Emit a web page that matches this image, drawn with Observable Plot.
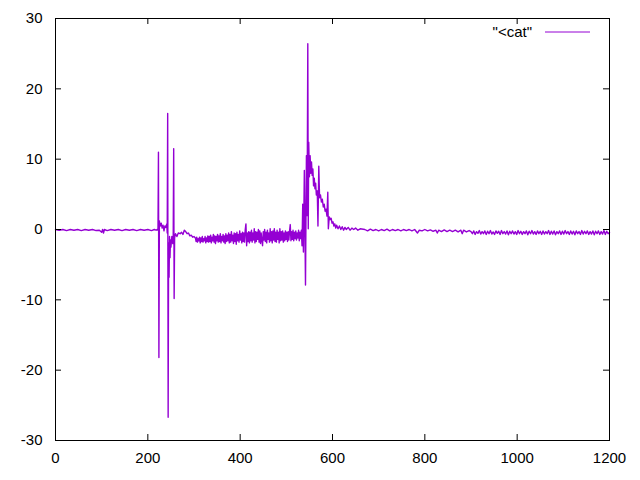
<!DOCTYPE html>
<html>
<head>
<meta charset="utf-8">
<script src="https://cdn.jsdelivr.net/npm/d3@7"></script>
<script src="https://cdn.jsdelivr.net/npm/@observablehq/plot@0.6"></script>
<style>
  html, body { margin: 0; padding: 0; background: #fff; }
  #wrap { position: relative; width: 640px; height: 480px; }
  #legend { position: absolute; left: 0; top: 0; width: 640px; height: 480px; pointer-events: none; }
</style>
</head>
<body>
<div id="wrap"></div>
<script>
const seriesName = '"<cat"';
const xTicks = [0, 200, 400, 600, 800, 1000, 1200];
const yTicks = [-30, -20, -10, 0, 10, 20, 30];

// [x, y] samples, by segment
const quietStart = [
  [0,0],[8,-0.1],[16,0],[24,-0.15],[32,0],[40,-0.1],[48,0],[56,-0.15],[64,0],[72,-0.1],[80,0],[88,-0.15],
  [95,-0.1],[100,-0.4],[102,0],[104,-0.5],[106,0],[112,-0.15],[120,0],[128,-0.1],[136,0],[144,-0.15],
  [152,0],[160,-0.1],[168,0],[176,-0.15],[184,0],[192,-0.1],[200,0],[208,-0.15],[214,0],[218,-0.1],[220,0]
];
const firstBurst = [
  [222,-0.1],[223,11],[224,-18.2],[225,1.2],[227,0.5],[229,0.9],[231,0.2],[233,0.6],[235,-0.2],[237,0.5],
  [239,0.3],[241,0.8],[242,-0.5],[243,16.5],[244,-26.7],[245,-2],[246,-6.8],[247,-1],[248,-4],[249,-1.5],
  [250,-2.5],[252,-1],[254,-2],[255,-0.8],[256,11.5],[257,-9.8],[258,-1.2],
  [260,-0.6],[263,-1],[266,-0.5],[270,-0.6],[273,-0.4],[276,-0.7],[279,-0.1],[282,-0.3],[285,-0.6],
  [288,-0.5],[291,-0.9],[294,-0.8],[297,-1.1],[300,-1.0]
];
const noisyMiddle = [
  [303,-1.2],[304.5,-1.7],[306,-1.1],[307.5,-1.8],[309,-1.3],[310.5,-1.6],[312,-1.1],[313.5,-1.9],[315,-1.2],[316.5,-1.7],
  [318,-1.0],[319.5,-1.8],[321,-1.3],[322.5,-1.6],[324,-1.0],[325.5,-1.9],[327,-1.2],[328.5,-1.7],[330,-0.9],[331.5,-1.8],
  [333,-1.0],[334.5,-1.7],[336,-0.8],[337.5,-1.9],[339,-1.1],[340.5,-1.6],[342,-0.7],[343.5,-1.8],[345,-0.9],[346.5,-2.0],
  [348,-1.0],[349.5,-1.6],[351,-0.7],[352.5,-1.8],[354,-0.9],[355.5,-1.7],[357,-0.6],[358.5,-1.9],[360,-1.0],[361.5,-1.6],
  [363,-0.7],[364.5,-1.8],[366,-0.9],[367.5,-2.0],[369,-0.6],[370.5,-1.7],[372,-0.8],[373.5,-1.6],[375,-0.5],[376.5,-1.9],
  [378,-0.7],[379.5,-1.8],[381,-0.3],[382.5,-1.6],[384,-0.8],[385.5,-2.0],[387,-0.5],[388.5,-1.7],[390,-0.6],[391.5,-2.1],
  [393,-0.4],[394.5,-1.6],[396,-0.7],[397.5,-1.8],[399,-0.2],[400.5,-1.5],[402,-0.6],[403.5,-1.9],[405,-0.4],[406.5,-1.7],
  [408,-0.5],[409.5,-1.8],[411,0.0],[412.5,0.8],[414,-2.3],[415.5,-0.5],[417,-1.7],[418.5,-0.3],[420,-1.9],[421.5,-0.4],
  [423,-1.6],[424.5,-0.1],[426,-1.8],[427.5,-0.5],[429,-1.5],[430.5,0.1],[432,-1.9],[433.5,-0.3],[435,-1.7],[436.5,-0.4],
  [438,-1.4],[439.5,0.0],[441,-1.8],[442.5,-0.2],[444,-2.0],[445.5,-0.5],[447,-1.6],[448.5,-2.3],[450,-0.3],[451.5,-1.5],
  [453,0.0],[454.5,-1.7],[456,-0.4],[457.5,-1.9],[459,-0.1],[460.5,-1.4],[462,-0.5],[463.5,-1.8],[465,0.1],[466.5,-1.6],
  [468,-0.3],[469.5,-1.9],[471,-0.2],[472.5,-1.5],[474,0.1],[475.5,-1.7],[477,-0.4],[478.5,-1.8],[480,-0.1],[481.5,-1.4],
  [483,-0.4],[484.5,-1.9],[486,0.1],[487.5,-1.6],[489,-0.3],[490.5,-1.5],[492,-0.2],[493.5,-1.8],[495,-0.5],[496.5,-1.6],
  [498,-0.2],[499.5,-1.4],[501,-0.4],[502.5,-1.7],[504,-0.3],[505.5,-1.5],[507,-0.2],[508.5,0.7],[510,-1.6],[511.5,-0.3],
  [513,-1.4],[514.5,-0.1],[516,-1.6],[517.5,-0.4],[519,-1.3],[520.5,-0.2],[522,-1.5],[523.5,-0.5],[525,-1.2],[526.5,-0.1],
  [528,-1.6],[529.5,-0.4],[531,-1.3],[532.5,-0.1],[534,-2.3]
];
const mainBurst = [
  [535.5,3.6],[537,-3.2],[539,8.4],[541.5,-7.9],[543.5,10.5],[545,2],[546.5,26.4],[547.5,0.1],[548.5,12.4],
  [550,7.5],[551.5,10.5],[553,8],[554.5,9.6],[556,7.7],[557.5,8.6],[559,6.2],[560.5,7.3],[562,5.8],[563.5,6.6],
  [565,4.9],[567,5.5],[568.5,0.5],[570.3,9.0],[572,4.5],[574,4.9],[576,3.9],[578,4.3],[580,3.2],[582,3.6],
  [584,2.6],[586,2.9],[588,1.9],[589.8,5.3],[591,0.1],[593,1.8],[595,1.4],[597,1.6],[599,0.9],[601,1.1],
  [603,0.5],[605,0.8],[607,0.2],[609,0.6],[612,0.1],[615,0.5],[618,0.0],[621,0.4],[624,-0.1],[627,0.3],
  [630,0.0],[634,0.3],[638,-0.1],[642,0.2],[646,0.0],[650,0.2],[655,-0.1],[660,0.1]
];
const quietTail = [
  [670,0],[676,-0.2],[682,0.05],[688,-0.15],[694,0],[700,-0.2],[706,0],[712,-0.15],[718,0.05],[724,-0.2],
  [730,0],[736,-0.15],[742,0],[748,-0.2],[754,0],[760,-0.15],[766,0],[772,-0.2],[778,0],[784,-0.5],
  [788,-0.1],[794,-0.2],[800,0],[806,-0.2],[812,-0.05],[818,-0.25],[824,-0.1],[827,-0.5],[830,-0.1],[836,-0.3],
  [842,-0.05],[848,-0.3],[854,-0.1],[860,-0.3],[866,-0.1],[872,-0.35],[878,-0.1],[881,-0.6],[884,-0.1],[890,-0.35],
  [896,-0.15]
];
const driftEnd = [
  [900,-0.3],[903,-0.6],[906,-0.2],[909,-0.7],[912,-0.3],[915,-0.55],[918,-0.15],[921,-0.65],[924,-0.3],[927,-0.6],
  [930,-0.2],[933,-0.7],[936,-0.25],[939,-0.6],[942,-0.15],[945,-0.65],[948,-0.35],[951,-0.7],[954,-0.2],[957,-0.55],
  [960,-0.25],[963,-0.7],[966,-0.15],[969,-0.6],[972,-0.3],[975,-0.65],[978,-0.2],[981,-0.75],[984,-0.25],[987,-0.6],
  [990,-0.2],[993,-0.65],[996,-0.3],[999,-0.7],[1002,-0.15],[1005,-0.6],[1008,-0.25],[1011,-0.7],[1014,-0.3],[1017,-0.6],
  [1020,-0.2],[1023,-0.75],[1026,-0.25],[1029,-0.6],[1032,-0.15],[1035,-0.65],[1038,-0.3],[1041,-0.7],[1044,-0.2],[1047,-0.6],
  [1050,-0.25],[1053,-0.7],[1056,-0.2],[1059,-0.65],[1062,-0.3],[1065,-0.6],[1068,-0.15],[1071,-0.7],[1074,-0.25],[1077,-0.65],
  [1080,-0.2],[1083,-0.75],[1086,-0.3],[1089,-0.6],[1092,-0.2],[1095,-0.7],[1098,-0.25],[1101,-0.65],[1104,-0.15],[1107,-0.6],
  [1110,-0.3],[1113,-0.7],[1116,-0.2],[1119,-0.65],[1122,-0.25],[1125,-0.75],[1128,-0.2],[1131,-0.6],[1134,-0.3],[1137,-0.7],
  [1140,-0.15],[1143,-0.65],[1146,-0.25],[1149,-0.6],[1152,-0.2],[1155,-0.7],[1158,-0.3],[1161,-0.65],[1164,-0.2],[1167,-0.75],
  [1170,-0.25],[1173,-0.6],[1176,-0.2],[1179,-0.7],[1182,-0.3],[1185,-0.65],[1188,-0.15],[1191,-0.7],[1194,-0.25],[1197,-0.6],
  [1200,-0.4]
];

const data = [...quietStart, ...firstBurst, ...noisyMiddle, ...mainBurst, ...quietTail, ...driftEnd]
  .map(([t, v]) => ({t, v}));
const purple = "#9400d3";
const W = 640, H = 480, ML = 55, MR = 31, MT = 18, MB = 40;
const innerW = W - ML - MR, innerH = H - MT - MB;
const tick = 6;
const font = "'Liberation Sans', Arial, sans-serif";

const chart = Plot.plot({
  width: W, height: H,
  marginLeft: ML, marginRight: MR, marginTop: MT, marginBottom: MB,
  style: {fontFamily: font, fontSize: "15px", color: "#000", background: "#fff"},
  x: {domain: [0, 1200]},
  y: {domain: [-30, 30]},
  marks: [
    Plot.line(data, {x: "t", y: "v", stroke: purple, strokeWidth: 1.4}),
    Plot.tickX(xTicks, {x: d => d, insetTop: innerH - tick, stroke: "#000"}),
    Plot.tickX(xTicks, {x: d => d, insetBottom: innerH - tick, stroke: "#000"}),
    Plot.tickY(yTicks, {y: d => d, insetRight: innerW - tick, stroke: "#000"}),
    Plot.tickY(yTicks, {y: d => d, insetLeft: innerW - tick, stroke: "#000"}),
    Plot.frame({stroke: "#000"}),
    Plot.axisX(xTicks, {tickSize: 0, tickPadding: 12, fontSize: 15, label: null, tickFormat: d => String(d)}),
    Plot.axisY(yTicks, {tickSize: 0, tickPadding: 13, fontSize: 15, label: null, tickFormat: d => String(d)})
  ]
});
document.getElementById("wrap").appendChild(chart);

// key (legend) in top-right, gnuplot style
const ns = "http://www.w3.org/2000/svg";
const key = document.createElementNS(ns, "svg");
key.setAttribute("id", "legend");
key.setAttribute("width", W); key.setAttribute("height", H);
const txt = document.createElementNS(ns, "text");
txt.setAttribute("x", 532); txt.setAttribute("y", 37);
txt.setAttribute("text-anchor", "end");
txt.setAttribute("font-family", font);
txt.setAttribute("font-size", "15");
txt.textContent = seriesName;
key.appendChild(txt);
const ln = document.createElementNS(ns, "line");
ln.setAttribute("x1", 545); ln.setAttribute("x2", 590);
ln.setAttribute("y1", 32); ln.setAttribute("y2", 32);
ln.setAttribute("stroke", purple); ln.setAttribute("stroke-width", 1);
key.appendChild(ln);
document.getElementById("wrap").appendChild(key);
</script>
</body>
</html>
